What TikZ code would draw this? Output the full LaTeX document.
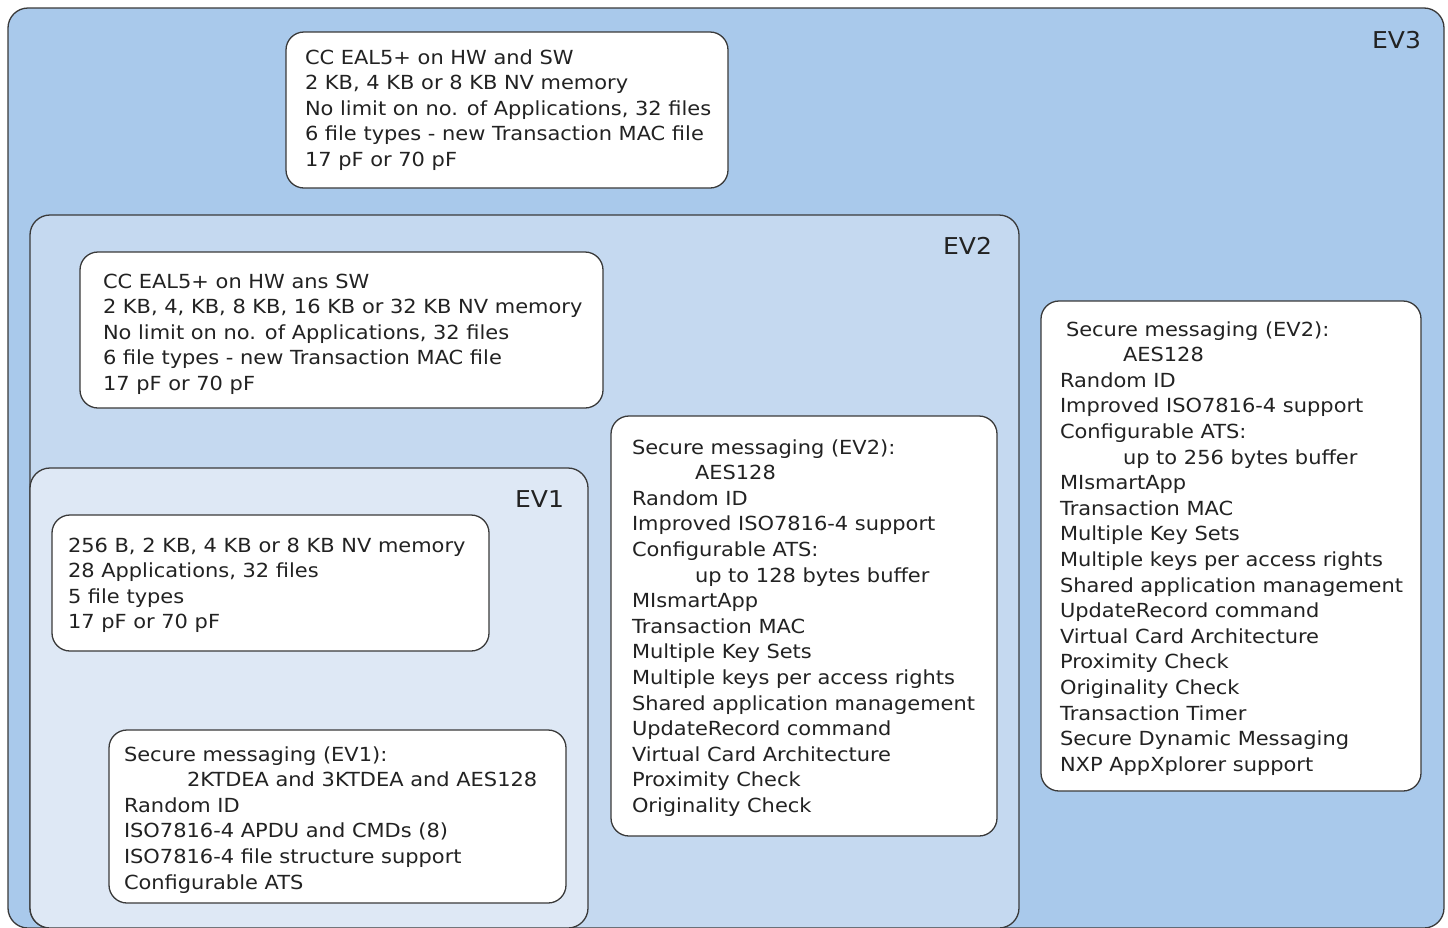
\documentclass[tikz,border=0pt]{standalone}
\usepackage{fontspec}
\setmainfont{DejaVu Sans}[FakeStretch=1.08]
\definecolor{evthree}{HTML}{A9C9EB}
\definecolor{evtwo}{HTML}{C5D9F0}
\definecolor{evone}{HTML}{DEE8F5}
\definecolor{bordergray}{HTML}{3A3A3A}
\definecolor{textgray}{HTML}{222222}
\newcommand\firstln{\rule{0pt}{16pt}}
\newcommand\ind{\hspace*{63pt}}
\tikzset{
 cont/.style={draw=bordergray, line width=1.3pt, rounded corners=20pt, anchor=north west, inner sep=0pt, outer sep=0pt},
 wbox/.style={draw=bordergray, line width=1.3pt, fill=white, rounded corners=18pt, anchor=north west, inner sep=0pt, outer sep=0pt},
 txt/.style={anchor=north west, inner sep=0pt, outer sep=0pt, align=left, font=\fontsize{19.4}{25.6}\selectfont, text=textgray},
 lbl/.style={anchor=east, inner sep=0pt, outer sep=0pt, font=\fontsize{23.2}{26}\selectfont, text=textgray},
}
\begin{document}
\begin{tikzpicture}[x=1pt,y=1pt]
\clip (0,0) rectangle (1448,-927);
\fill[white] (0,0) rectangle (1448,-927);
% containers
\node[cont, fill=evthree, minimum width=1436pt, minimum height=920pt] (ev3) at (8,-8) {};
\node[cont, fill=evtwo, minimum width=989pt, minimum height=713pt] (ev2) at (30,-215) {};
\node[cont, fill=evone, minimum width=558pt, minimum height=460pt] (ev1) at (30,-468) {};
% labels
\node[lbl] (ev3lbl) at (1421,-40) {EV3};
\node[lbl] (ev2lbl) at (992,-246) {EV2};
\node[lbl] (ev1lbl) at (564,-499) {EV1};
% EV3 boxes
\node[wbox, minimum width=442pt, minimum height=156pt] (ev3a) at (286,-32) {};
\node[txt] (ev3at) at (305,-48) {\firstln CC EAL5+ on HW and SW\\
2 KB, 4 KB or 8 KB NV memory\\
No limit on no. of Applications, 32 files\\
6 file types - new Transaction MAC file\\
17 pF or 70 pF};
\node[wbox, minimum width=380pt, minimum height=490pt] (ev3b) at (1041,-301) {};
\node[txt] (ev3bt) at (1060,-320) {\firstln\hspace*{6pt}Secure messaging (EV2):\\
\ind AES128\\
Random ID\\
Improved ISO7816-4 support\\
Configurable ATS:\\
\ind up to 256 bytes buffer\\
MIsmartApp\\
Transaction MAC\\
Multiple Key Sets\\
Multiple keys per access rights\\
Shared application management\\
UpdateRecord command\\
Virtual Card Architecture\\
Proximity Check\\
Originality Check\\
Transaction Timer\\
Secure Dynamic Messaging\\
NXP AppXplorer support};
% EV2 boxes
\node[wbox, minimum width=523pt, minimum height=156pt] (ev2a) at (80,-252) {};
\node[txt] (ev2at) at (103,-272) {\firstln CC EAL5+ on HW ans SW\\
2 KB, 4, KB, 8 KB, 16 KB or 32 KB NV memory\\
No limit on no. of Applications, 32 files\\
6 file types - new Transaction MAC file\\
17 pF or 70 pF};
\node[wbox, minimum width=386pt, minimum height=420pt] (ev2b) at (611,-416) {};
\node[txt] (ev2bt) at (632,-438) {\firstln Secure messaging (EV2):\\
\ind AES128\\
Random ID\\
Improved ISO7816-4 support\\
Configurable ATS:\\
\ind up to 128 bytes buffer\\
MIsmartApp\\
Transaction MAC\\
Multiple Key Sets\\
Multiple keys per access rights\\
Shared application management\\
UpdateRecord command\\
Virtual Card Architecture\\
Proximity Check\\
Originality Check};
% EV1 boxes
\node[wbox, minimum width=437pt, minimum height=136pt] (ev1a) at (52,-515) {};
\node[txt] (ev1at) at (68,-536) {\firstln 256 B, 2 KB, 4 KB or 8 KB NV memory\\
28 Applications, 32 files\\
5 file types\\
17 pF or 70 pF};
\node[wbox, minimum width=457pt, minimum height=173pt] (ev1b) at (109,-730) {};
\node[txt] (ev1bt) at (124,-745) {\firstln Secure messaging (EV1):\\
\ind 2KTDEA and 3KTDEA and AES128\\
Random ID\\
ISO7816-4 APDU and CMDs (8)\\
ISO7816-4 file structure support\\
Configurable ATS};
\end{tikzpicture}
\end{document}
